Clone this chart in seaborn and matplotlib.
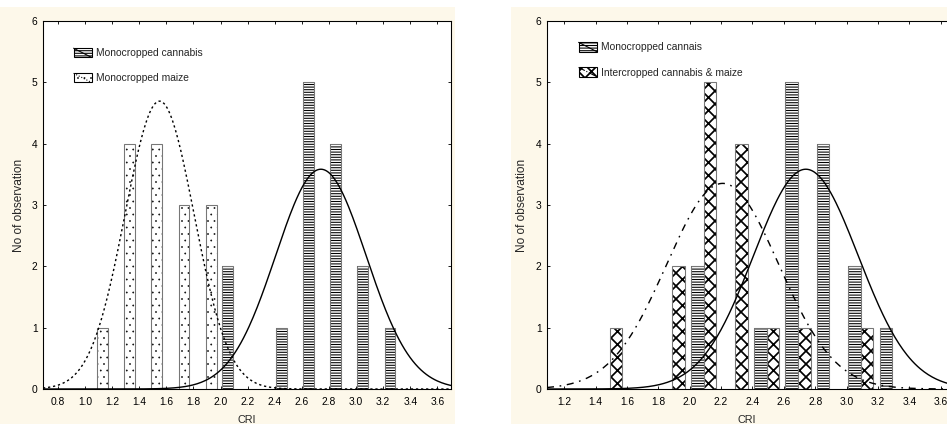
import numpy as np
import pandas as pd
import seaborn as sns
import matplotlib.pyplot as plt
from matplotlib.patches import Rectangle, Patch
from matplotlib.lines import Line2D
from matplotlib.legend_handler import HandlerBase
from matplotlib.ticker import MultipleLocator, FormatStrFormatter

# bar positions (CRI) and counts
maize_cri = [1.13, 1.33, 1.53, 1.73, 1.93]
maize_n = [1, 4, 4, 3, 3]
cannabis_cri = [2.05, 2.45, 2.65, 2.85, 3.05, 3.25]
cannabis_n = [2, 1, 5, 4, 2, 1]
inter_cri = [1.53, 1.93, 2.13, 2.33, 2.53, 2.73, 3.13]
inter_n = [1, 2, 5, 4, 1, 1, 1]

# fitted normal curves (mean, sd), 15 obs each, bin width 0.2
maize_fit = (1.55, 0.255)
cannabis_fit = (2.74, 0.334)
inter_fit = (2.21, 0.357)
n_obs = 15
bin_w = 0.2

left_labels = ["Monocropped cannabis", "Monocropped maize"]
right_labels = ["Monocropped cannais", "Intercropped cannabis & maize"]

DPI = 78
CREAM = "#fdf8ea"

sns.set_style("ticks")
plt.rcParams["font.family"] = ["Liberation Sans", "DejaVu Sans"]


class DiagHandler(HandlerBase):
    # hatched box with the curve's line style drawn across it
    def __init__(self, ls, hlw=1.0):
        super().__init__()
        self.ls = ls
        self.hlw = hlw

    def create_artists(self, legend, orig_handle, xdescent, ydescent,
                       width, height, fontsize, trans):
        with plt.rc_context({"hatch.linewidth": self.hlw}):
            box = Rectangle((-xdescent, -ydescent), width, height,
                            facecolor="white", edgecolor="black", lw=1.0,
                            hatch=orig_handle.get_hatch(), transform=trans)
        line = Line2D([-xdescent, -xdescent + width],
                      [-ydescent + height, -ydescent],
                      color="black", lw=1.0, ls=self.ls, transform=trans)
        return [box, line]


def normal_curve(fit, xlim):
    mu, sd = fit
    xs = np.linspace(xlim[0], xlim[1], 300)
    ys = n_obs * bin_w * np.exp(-0.5 * ((xs - mu) / sd) ** 2) / (sd * np.sqrt(2 * np.pi))
    return pd.DataFrame({"CRI": xs, "count": ys})


def draw_bars(ax, xs, ns, hatch, hlw=1.0):
    with plt.rc_context({"hatch.linewidth": hlw}):
        ax.bar(xs, ns, width=0.08, facecolor="white", edgecolor="black",
               hatch=hatch, linewidth=0, zorder=2)
    ax.bar(xs, ns, width=0.08, facecolor="none", edgecolor="#777777",
           linewidth=1.0, zorder=2.5)


def style_axes(ax, xlim):
    ax.set_xlim(*xlim)
    ax.set_ylim(0, 6)
    ax.xaxis.set_major_locator(MultipleLocator(0.2))
    ax.xaxis.set_major_formatter(FormatStrFormatter("%.1f"))
    ax.yaxis.set_major_locator(MultipleLocator(1))
    ax.tick_params(direction="in", top=True, right=True, length=3, width=0.8,
                   colors="black", labelsize=9.5)
    ax.tick_params(axis="x", pad=7)
    ax.tick_params(axis="y", pad=5)
    for s in ax.spines.values():
        s.set_color("black")
        s.set_linewidth(1.0)
    ax.set_xlabel("CRI", fontsize=10)
    ax.set_ylabel("No of observation", fontsize=11)
    ax.xaxis.set_label_coords(0.5, -0.07)
    ax.grid(False)


fig = plt.figure(figsize=(947 / DPI, 424 / DPI), dpi=DPI, facecolor="white")
fig.patches.append(Rectangle((0, 0), 455 / 947, 417 / 424, transform=fig.transFigure,
                             facecolor=CREAM, edgecolor="none", zorder=-1))
fig.patches.append(Rectangle((511 / 947, 0), 436 / 947, 417 / 424, transform=fig.transFigure,
                             facecolor=CREAM, edgecolor="none", zorder=-1))

leg_kw = dict(loc="upper left", frameon=False, fontsize=9.5, handlelength=1.75,
              handleheight=1.0, handletextpad=0.45, labelspacing=1.45,
              borderpad=0, borderaxespad=0)

# left panel
ax1 = fig.add_axes([43 / 947, 35 / 424, 408 / 947, 368 / 424])
xl1 = (0.69, 3.70)
draw_bars(ax1, maize_cri, maize_n, "..", hlw=0.4)
draw_bars(ax1, cannabis_cri, cannabis_n, "-----")
sns.lineplot(data=normal_curve(maize_fit, xl1), x="CRI", y="count", ax=ax1,
             color="black", lw=1.3, linestyle=(0, (1.6, 2.0)), zorder=3)
sns.lineplot(data=normal_curve(cannabis_fit, xl1), x="CRI", y="count", ax=ax1,
             color="black", lw=1.3, zorder=3)
style_axes(ax1, xl1)
ax1.yaxis.set_label_coords(-0.045, 0.5)
h1 = [Patch(hatch="-----"), Patch(hatch="..")]
ax1.legend(h1, left_labels, bbox_to_anchor=(0.075, 0.926),
           handler_map={h1[0]: DiagHandler("-"), h1[1]: DiagHandler(":", 0.4)},
           **leg_kw)

# right panel
ax2 = fig.add_axes([547 / 947, 35 / 424, 400 / 947, 368 / 424])
xl2 = (1.09, 3.64)
draw_bars(ax2, cannabis_cri, cannabis_n, "-----")
draw_bars(ax2, inter_cri, inter_n, "xx", hlw=1.6)
sns.lineplot(data=normal_curve(inter_fit, xl2), x="CRI", y="count", ax=ax2,
             color="black", lw=1.3, linestyle=(0, (5, 4, 1.2, 4)), zorder=3)
sns.lineplot(data=normal_curve(cannabis_fit, xl2), x="CRI", y="count", ax=ax2,
             color="black", lw=1.3, zorder=3)
style_axes(ax2, xl2)
ax2.spines["right"].set_visible(False)
ax2.tick_params(right=False)
ax2.yaxis.set_label_coords(-0.047, 0.5)
h2 = [Patch(hatch="-----"), Patch(hatch="xx")]
ax2.legend(h2, right_labels, bbox_to_anchor=(0.079, 0.942),
           handler_map={h2[0]: DiagHandler("-"), h2[1]: DiagHandler("-.", 1.6)},
           **leg_kw)

fig.savefig("out.png", dpi=DPI, facecolor="white")
